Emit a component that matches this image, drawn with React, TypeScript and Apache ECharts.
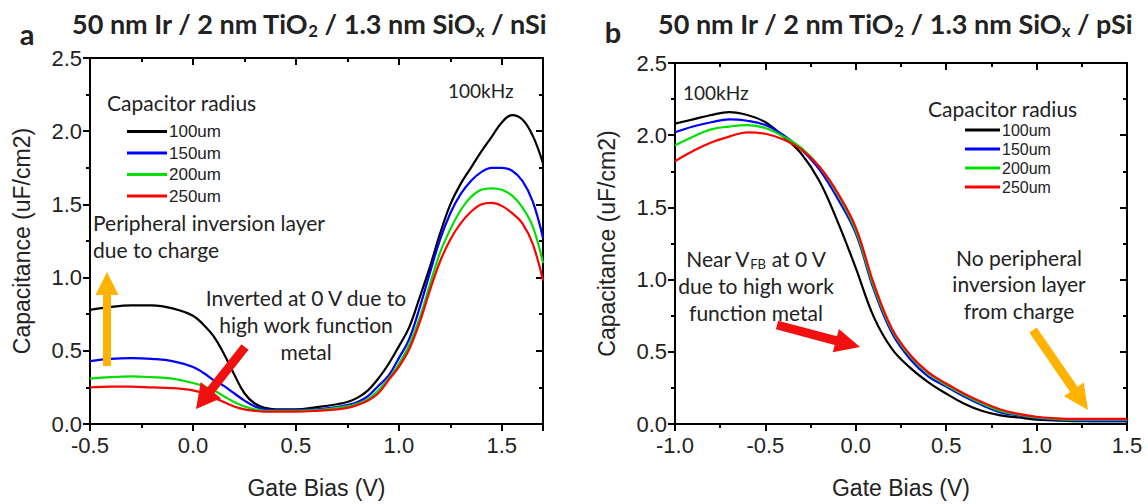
import React, { useEffect, useRef } from "react";
import * as echarts from "echarts";

// ---------- data ----------
const seriesNames = ["100um", "150um", "200um", "250um"];
const seriesColors = ["#000000", "#0000FF", "#00E000", "#FF0000"];

// Panel a (nSi)
const biasA = [-0.5, -0.4, -0.3, -0.2, -0.1, 0.0, 0.05, 0.1, 0.15, 0.2, 0.25, 0.3, 0.35, 0.4, 0.5, 0.6, 0.7, 0.75, 0.8, 0.85, 0.9, 0.95, 1.0, 1.05, 1.1, 1.15, 1.2, 1.25, 1.3, 1.35, 1.4, 1.45, 1.5, 1.55, 1.6, 1.65, 1.7];
const capA100 = [0.78, 0.80, 0.81, 0.81, 0.79, 0.74, 0.68, 0.60, 0.48, 0.34, 0.21, 0.14, 0.11, 0.10, 0.10, 0.115, 0.135, 0.15, 0.18, 0.23, 0.31, 0.41, 0.53, 0.66, 0.86, 1.07, 1.30, 1.50, 1.64, 1.75, 1.86, 1.96, 2.06, 2.11, 2.08, 1.97, 1.78];
const capA150 = [0.43, 0.445, 0.45, 0.445, 0.43, 0.39, 0.35, 0.30, 0.26, 0.21, 0.16, 0.12, 0.10, 0.095, 0.095, 0.10, 0.115, 0.13, 0.15, 0.19, 0.26, 0.33, 0.45, 0.58, 0.79, 1.03, 1.26, 1.44, 1.57, 1.66, 1.72, 1.75, 1.75, 1.73, 1.66, 1.52, 1.27];
const capA200 = [0.31, 0.32, 0.325, 0.32, 0.31, 0.28, 0.26, 0.23, 0.19, 0.15, 0.12, 0.10, 0.09, 0.09, 0.09, 0.095, 0.11, 0.12, 0.14, 0.17, 0.23, 0.31, 0.41, 0.54, 0.72, 0.95, 1.17, 1.33, 1.46, 1.55, 1.60, 1.61, 1.60, 1.56, 1.48, 1.35, 1.10];
const capA250 = [0.25, 0.255, 0.255, 0.25, 0.245, 0.23, 0.21, 0.18, 0.15, 0.12, 0.10, 0.09, 0.085, 0.085, 0.085, 0.09, 0.10, 0.11, 0.13, 0.16, 0.21, 0.30, 0.39, 0.51, 0.69, 0.91, 1.11, 1.26, 1.37, 1.45, 1.50, 1.51, 1.49, 1.44, 1.37, 1.23, 0.98];

// Panel b (pSi)
const biasB = [-1.0, -0.9, -0.8, -0.7, -0.6, -0.5, -0.4, -0.3, -0.2, -0.1, 0.0, 0.1, 0.2, 0.3, 0.4, 0.5, 0.6, 0.7, 0.8, 0.9, 1.0, 1.1, 1.2, 1.3, 1.4, 1.5];
const capB100 = [2.08, 2.11, 2.14, 2.16, 2.14, 2.09, 1.99, 1.87, 1.68, 1.40, 1.08, 0.74, 0.52, 0.39, 0.29, 0.21, 0.14, 0.09, 0.06, 0.045, 0.03, 0.025, 0.02, 0.02, 0.02, 0.02];
const capB150 = [2.02, 2.06, 2.09, 2.11, 2.10, 2.07, 2.00, 1.90, 1.76, 1.56, 1.32, 0.93, 0.63, 0.45, 0.33, 0.26, 0.19, 0.13, 0.08, 0.06, 0.04, 0.03, 0.025, 0.02, 0.02, 0.02];
const capB200 = [1.93, 1.99, 2.04, 2.06, 2.07, 2.05, 1.99, 1.91, 1.78, 1.59, 1.34, 0.95, 0.65, 0.47, 0.35, 0.27, 0.20, 0.14, 0.09, 0.065, 0.045, 0.035, 0.03, 0.03, 0.03, 0.03];
const capB250 = [1.82, 1.89, 1.95, 1.99, 2.02, 2.01, 1.97, 1.90, 1.78, 1.60, 1.36, 0.97, 0.66, 0.48, 0.36, 0.28, 0.21, 0.15, 0.10, 0.07, 0.05, 0.04, 0.035, 0.035, 0.035, 0.035];

// ---------- styles ----------
const ARIAL = "'Liberation Sans', Arial, sans-serif";
const CAL = "Lato, 'Open Sans', sans-serif";

function pairs(xs: number[], ys: number[]) {
  return xs.map((x, i) => [x, ys[i]]);
}

function arrow(x1: number, y1: number, x2: number, y2: number, sw: number, hw: number, hl: number, color: string) {
  const dx = x2 - x1, dy = y2 - y1;
  const len = Math.hypot(dx, dy);
  const ux = dx / len, uy = dy / len;
  const px = -uy, py = ux;
  const bx = x2 - ux * hl, by = y2 - uy * hl;
  const pts = [
    [x1 + px * sw / 2, y1 + py * sw / 2],
    [bx + px * sw / 2, by + py * sw / 2],
    [bx + px * hw / 2, by + py * hw / 2],
    [x2, y2],
    [bx - px * hw / 2, by - py * hw / 2],
    [bx - px * sw / 2, by - py * sw / 2],
    [x1 - px * sw / 2, y1 - py * sw / 2],
  ];
  return { type: "polygon", shape: { points: pts }, style: { fill: color }, z: 10 };
}

function txt(x: number, y: number, text: string, size: number, opts: any = {}) {
  return {
    type: "text",
    x,
    y,
    z: 10,
    style: {
      text,
      fontSize: size,
      fontFamily: opts.family || CAL,
      fontWeight: opts.weight || "normal",
      fill: "#222",
      align: opts.align || "left",
      verticalAlign: "middle",
      ...(opts.rich ? { rich: opts.rich } : {}),
    },
  };
}

export default function App() {
  const ref = useRef<HTMLDivElement>(null);
  useEffect(() => {
    if (!ref.current) return;
    const chart = echarts.init(ref.current, undefined, { renderer: "svg" });

    const grids = [
      { left: 90, top: 58, width: 453, height: 369 },
      { left: 675, top: 63, width: 452, height: 368 },
    ];
    const xRanges = [
      { min: -0.5, max: 1.7 },
      { min: -1.0, max: 1.5 },
    ];

    const axisLine = { show: true, onZero: false, lineStyle: { color: "#000", width: 2 } };
    const fmt = (v: number) => v.toFixed(1);

    const xAxes: any[] = [];
    const yAxes: any[] = [];
    [0, 1].forEach((g) => {
      xAxes.push({
        type: "value",
        gridIndex: g,
        position: "bottom",
        min: xRanges[g].min,
        max: xRanges[g].max,
        interval: 0.5,
        axisLine,
        axisTick: { show: true, inside: false, length: 7, lineStyle: { color: "#000", width: 2 } },
        minorTick: { show: true, splitNumber: 2, length: 4, lineStyle: { color: "#000", width: 2 } },
        splitLine: { show: false },
        axisLabel: { formatter: fmt, fontFamily: ARIAL, fontSize: 22, color: "#222", margin: 10, showMaxLabel: g === 1 },
        name: "Gate Bias (V)",
        nameLocation: "middle",
        nameGap: 52,
        nameTextStyle: { fontFamily: ARIAL, fontSize: 23, color: "#222" },
      });
      xAxes.push({
        type: "value",
        gridIndex: g,
        position: "top",
        min: xRanges[g].min,
        max: xRanges[g].max,
        interval: 0.5,
        axisLine,
        axisTick: { show: true, inside: true, length: 7, lineStyle: { color: "#000", width: 2 } },
        minorTick: { show: true, splitNumber: 2, length: 4, lineStyle: { color: "#000", width: 2 } },
        splitLine: { show: false },
        axisLabel: { show: false },
      });
      yAxes.push({
        type: "value",
        gridIndex: g,
        position: "left",
        min: 0,
        max: 2.5,
        interval: 0.5,
        axisLine,
        axisTick: { show: true, inside: false, length: 7, lineStyle: { color: "#000", width: 2 } },
        minorTick: { show: true, splitNumber: 2, length: 4, lineStyle: { color: "#000", width: 2 } },
        splitLine: { show: false },
        axisLabel: { formatter: fmt, fontFamily: ARIAL, fontSize: 22, color: "#222", margin: 8 },
        name: "Capacitance (uF/cm2)",
        nameLocation: "middle",
        nameGap: 57,
        nameTextStyle: { fontFamily: ARIAL, fontSize: 23, color: "#222" },
      });
      yAxes.push({
        type: "value",
        gridIndex: g,
        position: "right",
        min: 0,
        max: 2.5,
        interval: 0.5,
        axisLine,
        axisTick: { show: true, inside: true, length: 7, lineStyle: { color: "#000", width: 2 } },
        minorTick: { show: true, splitNumber: 2, length: 4, lineStyle: { color: "#000", width: 2 } },
        splitLine: { show: false },
        axisLabel: { show: false },
      });
    });

    const dataA = [capA100, capA150, capA200, capA250];
    const dataB = [capB100, capB150, capB200, capB250];
    const series: any[] = [];
    dataA.forEach((d, i) => {
      series.push({
        name: seriesNames[i],
        type: "line",
        xAxisIndex: 0,
        yAxisIndex: 0,
        data: pairs(biasA, d),
        smooth: 0.4,
        showSymbol: false,
        lineStyle: { color: seriesColors[i], width: 2.2 },
        itemStyle: { color: seriesColors[i] },
      });
    });
    dataB.forEach((d, i) => {
      series.push({
        name: seriesNames[i],
        type: "line",
        xAxisIndex: 2,
        yAxisIndex: 2,
        data: pairs(biasB, d),
        smooth: 0.4,
        showSymbol: false,
        lineStyle: { color: seriesColors[i], width: 2.2 },
        itemStyle: { color: seriesColors[i] },
      });
    });

    const subRich = (size: number, bold: boolean) => ({
      m: { fontSize: size, fontFamily: CAL, fontWeight: bold ? "bold" : "normal", fill: "#222" },
      s: { fontSize: size * 0.62, fontFamily: CAL, fontWeight: bold ? "bold" : "normal", fill: "#222", padding: [size * 0.55, 0, 0, 0] },
    });

    const titleText = (sub: string) =>
      "{m|50 nm Ir / 2 nm TiO}{s|2}{m| / 1.3 nm SiO}{s|x}{m| / " + sub + "}";

    const A = 21;
    const graphic: any[] = [
      txt(27, 33, "a", 29, { weight: "bold", align: "center" }),
      txt(613, 31, "b", 29, { weight: "bold", align: "center" }),
      txt(309, 23, titleText("nSi"), 27, { align: "center", rich: subRich(27, true) }),
      txt(895, 23, titleText("pSi"), 27, { align: "center", rich: subRich(27, true) }),
      // panel a annotations
      txt(107, 102, "Capacitor radius", A),
      txt(448, 90, "100kHz", 19),
      txt(93, 222, "Peripheral inversion layer", A),
      txt(93, 249, "due to charge", A),
      txt(306, 297, "Inverted at 0 V due to", A, { align: "center" }),
      txt(306, 324, "high work function", A, { align: "center" }),
      txt(306, 351, "metal", A, { align: "center" }),
      arrow(107, 366, 107, 272, 8, 23, 23, "#FFB300"),
      arrow(245, 347, 196, 409, 9, 26, 24, "#F01010"),
      // panel b annotations
      txt(683, 92, "100kHz", 19),
      txt(928, 108, "Capacitor radius", A),
      txt(756, 258, "{m|Near V}{s|FB}{m| at 0 V}", A, { align: "center", rich: subRich(A, false) }),
      txt(756, 285, "due to high work", A, { align: "center" }),
      txt(756, 312, "function metal", A, { align: "center" }),
      txt(1019, 257, "No peripheral", A, { align: "center" }),
      txt(1019, 283, "inversion layer", A, { align: "center" }),
      txt(1019, 310, "from charge", A, { align: "center" }),
      arrow(777, 325, 860, 347, 9, 24, 25, "#F01010"),
      arrow(1033, 330, 1088, 410, 9, 24, 25, "#FFB300"),
    ];

    const legendBase = {
      orient: "vertical",
      icon: "rect",
      itemHeight: 3,
      padding: 0,
      data: seriesNames,
      selectedMode: false,
      textStyle: { fontFamily: ARIAL, color: "#222", padding: [0, 0, 0, -3] },
    };

    chart.setOption({
      animation: false,
      backgroundColor: "#fff",
      grid: grids,
      xAxis: xAxes,
      yAxis: yAxes,
      series,
      legend: [
        { ...legendBase, left: 127, top: 123, itemWidth: 40, itemGap: 4.5, textStyle: { ...legendBase.textStyle, fontSize: 17, lineHeight: 17 } },
        { ...legendBase, left: 965, top: 122, itemWidth: 35, itemGap: 3, textStyle: { ...legendBase.textStyle, fontSize: 16, lineHeight: 16 } },
      ],
      graphic,
    });

    return () => chart.dispose();
  }, []);

  return <div ref={ref} style={{ position: "absolute", left: 0, top: 0, width: 1148, height: 504 }} />;
}
